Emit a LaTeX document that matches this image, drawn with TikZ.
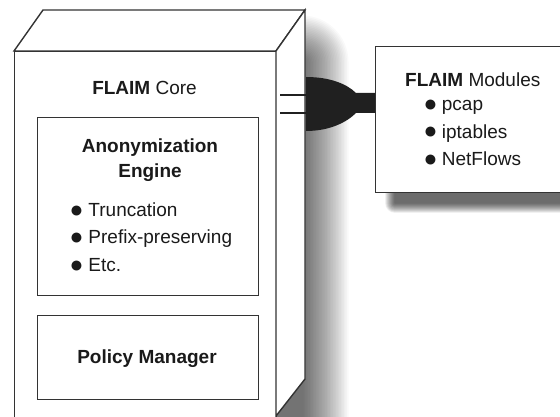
\documentclass[tikz,border=0pt]{standalone}
\usepackage{fontspec}
\setmainfont{Liberation Sans}
\definecolor{linegray}{HTML}{333333}
\definecolor{textblack}{HTML}{1A1A1A}
\definecolor{plugblack}{HTML}{202020}
\newcommand\mybul{\raisebox{-0.6pt}{\fontsize{23}{23}\selectfont\symbol{"25CF}}}
\begin{document}
\begin{tikzpicture}[x=1pt,y=-1pt,line join=miter,
  edge/.style={draw=linegray,line width=1.4pt},
  boxed/.style={edge,fill=white,inner sep=0pt},
  lbl/.style={font=\fontsize{19}{22}\selectfont,text=textblack,inner sep=0pt}]
\useasboundingbox (0,0) rectangle (560,417);
\clip (0,0) rectangle (560,417);
\fill[white] (0,0) rectangle (560,417);
% cube shadow (soft, built from layers)
\foreach \i in {1,...,30} {
  \begin{scope}[transparency group,opacity=0.025]
    \filldraw[black,line join=round,line width=\i*3.1pt] (100,62) rectangle (302,470);
  \end{scope}
}
% cube faces
\coordinate (ftl) at (14,51);
\coordinate (ftr) at (276,51);
\coordinate (btl) at (43,10);
\coordinate (btr) at (305,10);
\coordinate (bbr) at (305,379);
\coordinate (fbr) at (276,416);
\node[boxed,anchor=north west,minimum width=262pt,minimum height=372pt] (core) at (14,51) {};
\filldraw[edge,fill=white] (ftl) -- (btl) -- (btr) -- (ftr) -- cycle;
\filldraw[edge,fill=white] (ftr) -- (btr) -- (bbr) -- (fbr) -- cycle;
% inner boxes
\node[boxed,anchor=north west,minimum width=221pt,minimum height=178pt] (anon) at (37,117) {};
\node[boxed,anchor=north west,minimum width=221pt,minimum height=84pt] (policy) at (37,315) {};
% texts in core
\node[lbl,anchor=base] (coret) at (144.5,94.3) {\textbf{FLAIM} Core};
\node[lbl,anchor=base,font=\fontsize{19}{25.3}\selectfont\bfseries,align=center] (anont) at (150,178) {Anonymization\\Engine};
\node[lbl,anchor=base west] (b1) at (69.5,216.7) {\mybul\hspace{4.9pt}Truncation};
\node[lbl,anchor=base west] (b2) at (69.5,243.5) {\mybul\hspace{4.9pt}Prefix-preserving};
\node[lbl,anchor=base west] (b3) at (69.5,271.5) {\mybul\hspace{4.9pt}Etc.};
\node[lbl,anchor=base,font=\fontsize{19}{22}\selectfont\bfseries] (policyt) at (147,363) {Policy Manager};
% modules box shadow
\foreach \i in {1,...,20} {
  \begin{scope}[transparency group,opacity=0.039]
    \filldraw[black,line join=round,line width=\i*1pt] (395,60) rectangle (600,203);
  \end{scope}
}
% modules box
\node[boxed,anchor=north west,minimum width=200pt,minimum height=146pt] (mod) at (375,46) {};
\node[lbl,anchor=base west] (modt) at (405,86.7) {\textbf{FLAIM} Modules};
\node[lbl,anchor=base west] (m1) at (423.5,110.7) {\mybul\hspace{4.3pt}pcap};
\node[lbl,anchor=base west] (m2) at (423.5,138.3) {\mybul\hspace{4.3pt}iptables};
\node[lbl,anchor=base west] (m3) at (423.5,166) {\mybul\hspace{4.3pt}NetFlows};
% plug
\coordinate (p1) at (ftr |- 0,95);
\coordinate (p2) at (ftr |- 0,113);
\draw[plugblack,line width=2.2pt] ([xshift=4pt]p1) -- (308,95);
\draw[plugblack,line width=2.2pt] ([xshift=4pt]p2) -- (308,113);
\fill[plugblack] (306,77) .. controls (330,77) and (347,84) .. (356,93)
  -- (mod.west |- 0,93) -- (mod.west |- 0,113) -- (356,113)
  .. controls (347,122) and (330,131) .. (306,131) -- cycle;
\end{tikzpicture}
\end{document}
